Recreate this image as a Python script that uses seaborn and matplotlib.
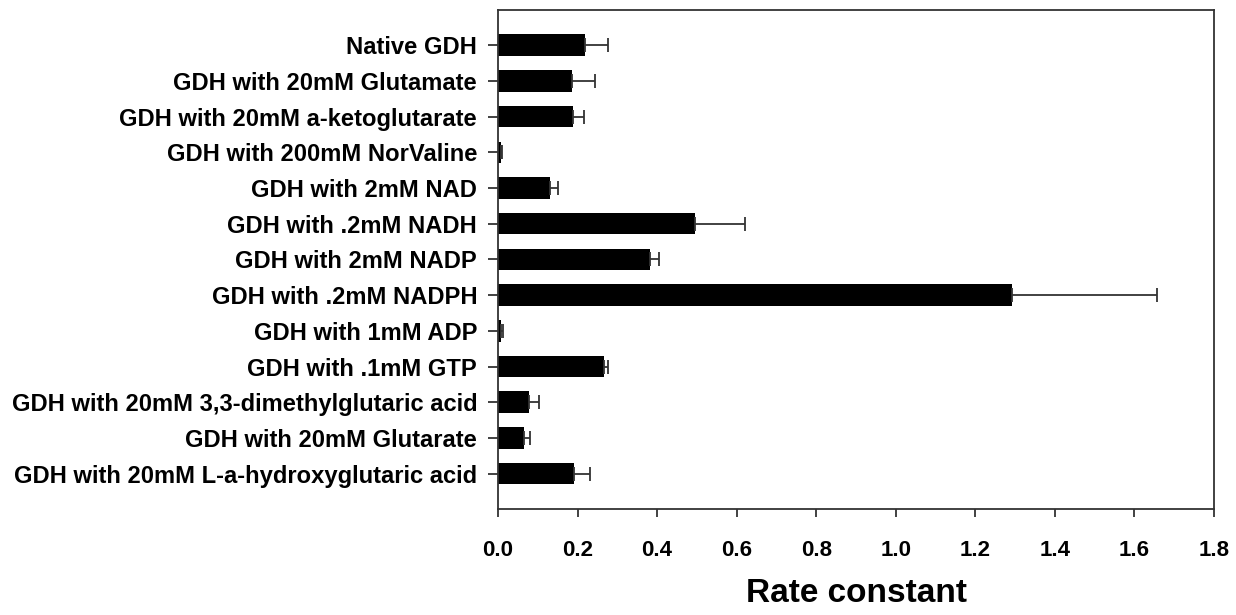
import matplotlib
matplotlib.use("Agg")
import matplotlib.pyplot as plt
import seaborn as sns
import pandas as pd
import numpy as np

categories = [
    "Native GDH",
    "GDH with 20mM Glutamate",
    "GDH with 20mM a-ketoglutarate",
    "GDH with 200mM NorValine",
    "GDH with 2mM NAD",
    "GDH with .2mM NADH",
    "GDH with 2mM NADP",
    "GDH with .2mM NADPH",
    "GDH with 1mM ADP",
    "GDH with .1mM GTP",
    "GDH with 20mM 3,3-dimethylglutaric acid",
    "GDH with 20mM Glutarate",
    "GDH with 20mM L-a-hydroxyglutaric acid",
]
rates = [0.219, 0.187, 0.189, 0.007, 0.131, 0.494, 0.383, 1.293, 0.0075, 0.267, 0.077, 0.065, 0.191]
errors = [0.058, 0.057, 0.026, 0.003, 0.020, 0.128, 0.022, 0.364, 0.005, 0.009, 0.026, 0.015, 0.041]
xticks = [0.0, 0.2, 0.4, 0.6, 0.8, 1.0, 1.2, 1.4, 1.6, 1.8]

df = pd.DataFrame({"condition": categories, "rate": rates, "err": errors})

sns.set_theme(style="white")
plt.rcParams["font.family"] = ["Liberation Sans", "DejaVu Sans"]
plt.rcParams["text.color"] = "black"
plt.rcParams["xtick.color"] = "black"
plt.rcParams["ytick.color"] = "black"
plt.rcParams["axes.labelcolor"] = "black"

fig = plt.figure(figsize=(12.36, 6.15), dpi=100)
ax = fig.add_axes([498 / 1236, 1 - 509.3 / 615, (1214 - 498) / 1236, (509.3 - 9.5) / 615])

sns.barplot(data=df, y="condition", x="rate", orient="h", color="black",
            width=0.6, saturation=1, ax=ax, errorbar=None)
for p in ax.patches:
    p.set_linewidth(0)

ypos = np.arange(len(categories))
ax.errorbar(df["rate"], ypos, xerr=[np.zeros(len(errors)), df["err"]],
            fmt="none", ecolor="#333333", elinewidth=1.3, capsize=5, capthick=1.3)

ax.set_xlim(0, 1.8)
ax.set_ylim(len(categories), -1)
ax.set_xticks(xticks)
ax.set_xticklabels([f"{t:.1f}" for t in xticks], fontsize=16, fontweight="bold")
ax.set_yticks(ypos)
ax.set_yticklabels(categories, fontsize=17.1, fontweight="bold")
ax.set_ylabel("")
ax.set_xlabel("Rate constant", fontsize=24, fontweight="bold", labelpad=12)

for s in ax.spines.values():
    s.set_visible(True)
    s.set_color("#333333")
    s.set_linewidth(1.3)

ax.tick_params(axis="x", direction="out", length=6, width=1.3, color="#333333",
               bottom=True, pad=16, labelcolor="black")
ax.tick_params(axis="y", direction="out", length=7, width=1.3, color="#333333",
               left=True, pad=8, labelcolor="black")

fig.savefig("out.png", dpi=100)
